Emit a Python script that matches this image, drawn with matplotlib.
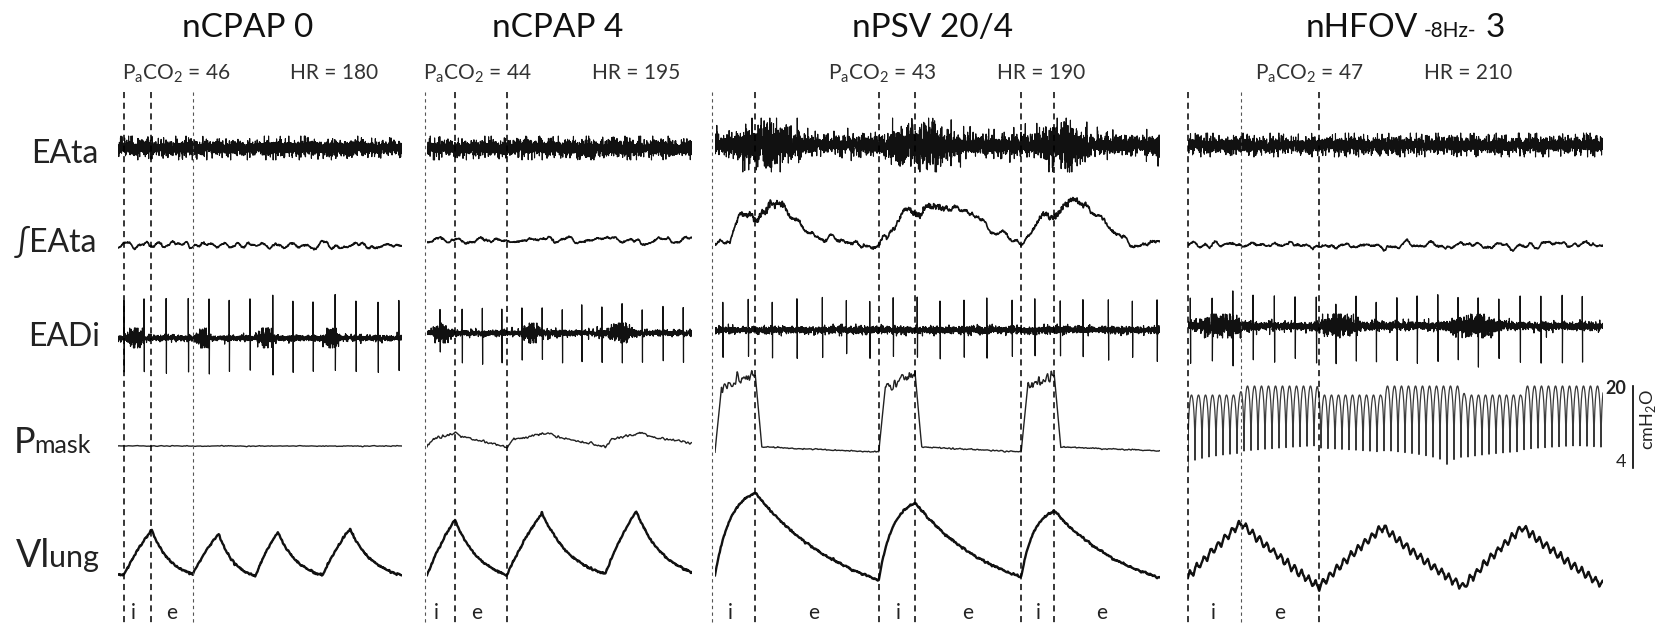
"""Respiratory traces (EAta, integrated EAta, EADi, Pmask, Vlung) under
four modes of non-invasive support, one column per mode.

Event times, levels and amplitudes were read off the published figure.
Raw EMG has no readable sample values, so its interference pattern is
drawn as seeded noise scaled by the envelope that was read off.
"""
import numpy as np
import matplotlib

matplotlib.use("Agg")
import matplotlib.pyplot as plt  # noqa: E402

plt.rcParams["font.family"] = ["Lato", "DejaVu Sans"]
plt.rcParams["mathtext.fontset"] = "custom"
plt.rcParams["mathtext.rm"] = "Lato"

W, H = 1663, 629

# ---------------- values ----------------
MODES = ["nCPAP 0", "nCPAP 4", "nPSV 20/4", "nHFOV"]
PACO2 = [46, 44, 43, 47]
HR = [180, 195, 190, 210]
HFOV_HZ = 8

# trace length (s) of each column
DURATION = [4.37, 4.08, 6.85, 7.41]

# dashed phase markers (s) and which of them are drawn faint
PHASE_LINES = [[0.09, 0.51, 1.15],
               [-0.03, 0.43, 1.23],
               [-0.05, 0.62, 2.52, 3.08, 4.71, 5.22],
               [0.0, 0.95, 2.34]]
PHASE_FAINT = [[1.15], [-0.03], [-0.05], [0.95]]
PHASE_TEXT = [[(0.23, "i"), (0.83, "e")],
              [(0.15, "i"), (0.77, "e")],
              [(0.23, "i"), (1.51, "e"), (2.82, "i"), (3.89, "e"),
               (4.97, "i"), (5.95, "e")],
              [(0.45, "i"), (1.64, "e")]]

# QRS complexes seen in the EADi channel (s)
ECG_BEATS = [
    [0.09, 0.40, 0.74, 1.08, 1.40, 1.71, 2.03, 2.38, 2.69, 3.00, 3.34,
     3.66, 4.00, 4.32],
    [0.20, 0.54, 0.85, 1.15, 1.46, 1.77, 2.08, 2.38, 2.69, 3.00, 3.31,
     3.63, 3.94],
    [0.12, 0.51, 0.88, 1.26, 1.65, 2.02, 2.38, 2.74, 3.11, 3.46, 3.83,
     4.18, 4.57, 4.92, 5.31, 5.66, 6.05, 6.42, 6.80],
    [0.04, 0.43, 0.80, 1.16, 1.54, 1.91, 2.29, 2.64, 3.00, 3.36, 3.73,
     4.09, 4.46, 4.82, 5.18, 5.55, 5.93, 6.30, 6.68, 7.04],
]
ECG_UP = [38, 25, 30, 30]      # spike height above EADi baseline
ECG_DOWN = [34, 29, 27, 36]    # spike depth below EADi baseline

# raw EMG envelopes (sd), peak excursion and burst windows (s)
EATA_SD = [3.4, 3.6, 4.0, 3.6]
EATA_BURST_SD = [0.0, 0.0, 6.0, 0.0]
EATA_MAX = [12, 12, 27, 12]
EATA_BURSTS = [[], [], [(0.10, 1.45), (2.45, 3.95), (4.75, 5.95)], []]
EADI_SD = [1.2, 1.2, 1.5, 1.7]
EADI_BURST_SD = [3.6, 3.2, 0.0, 3.6]
EADI_MAX = [10, 10, 6, 12]
EADI_BURSTS = [[(0.08, 0.45), (1.15, 1.46), (2.08, 2.45), (3.11, 3.46)],
               [(0.00, 0.45), (1.40, 1.80), (2.66, 3.30)],
               [],
               [(0.00, 1.20), (2.20, 3.20), (4.50, 5.80)]]

# integrated EAta, nPSV column: (s, height above baseline)
IEATA_PSV_T = [0.0, 0.23, 0.38, 0.62, 0.85, 1.15, 1.46, 1.69, 2.08, 2.52,
               2.77, 2.92, 3.08, 3.38, 3.92, 4.38, 4.71, 4.92, 5.08, 5.22,
               5.46, 5.92, 6.38, 6.85]
IEATA_PSV_V = [0, 3, 31, 23, 43, 33, 11, 3, 0, 0,
               18, 36, 28, 41, 31, 8, 0, 18, 28, 25,
               43, 28, -2, 1]
IEATA_WIGGLE = [1.8, 1.8, 2.2, 1.8]

# breaths: onset, end of inspiration (s); Vlung trough / peak levels
BREATH_ON = [[0.09, 1.15, 2.11, 3.15], [0.0, 1.23, 2.74],
             [0.0, 2.52, 4.71], [0.0, 2.34, 4.91]]
BREATH_PEAK = [[0.52, 1.55, 2.46, 3.57], [0.43, 1.77, 3.22],
               [0.62, 3.08, 5.22], [0.95, 3.48, 5.98]]
VLUNG_TROUGH = [[15, 16, 14, 15, 15], [15, 15, 16, 18],
                [15, 10, 13, 12], [13, 3, 3, 5]]
VLUNG_TOP = [[60, 56, 58, 61], [70, 77, 79], [97, 87, 79], [67, 63, 63]]
VLUNG_RISE_K = [0.5, 0.5, 2.6, 0.2]
VLUNG_FALL_K = [2.2, 2.0, 1.3, 0.3]
HFOV_VOL_WIGGLE = 4.0

# mask pressure (cmH2O)
PMASK_BASE = [0.0, 4.0, 4.0, 4.2]
PMASK_INSP_END = [[], [0.43, 1.88, 3.31], [0.62, 3.08, 5.22], []]
PMASK_RISE = [None, 5.6, 17.0, None]
PMASK_PEAK = [None, 6.8, 19.4, None]
PMASK_AFTER = [None, 6.1, 5.0, None]
HFOV_TOP_INSP = 18.6
HFOV_TOP_EXP = 20.4
SCALE_BAR = (4, 20)

# ---------------- layout ----------------
X0 = [118, 427, 715, 1188]          # left edge of each column (px)
PX_PER_S = [65, 65, 65, 56]
TITLE_X = [248, 558, 933, 1407]
SUB_LEFT = [122, 423, 828, 1255]
SUB_RIGHT = [378, 680, 1085, 1512]
ROW_EATA = [148, 148, 145, 145]
ROW_IEATA = [245, 240, 244, 245]
ROW_EADI = [338, 333, 330, 326]
ROW_PMASK0 = [446, 467, 472, 488]
PMASK_GAIN = 5.0
ROW_VLUNG = 590

INK = "#111111"
rng = np.random.default_rng(11)


def smooth_noise(n, width):
    k = np.exp(-0.5 * (np.arange(-3 * width, 3 * width + 1) / width) ** 2)
    x = np.convolve(rng.standard_normal(n), k / k.sum(), mode="same")
    return x / x.std()


def burst_env(t, bursts):
    e = np.zeros_like(t)
    for a, b in bursts:
        m = (t >= a) & (t <= b)
        e[m] = np.maximum(e[m], np.sin(np.pi * (t[m] - a) / (b - a)) ** 2)
    return e


def ease(s, k):
    if abs(k) < 0.05:
        return s
    return (1 - np.exp(-k * s)) / (1 - np.exp(-k))


def vlung(t, i):
    on, pk = BREATH_ON[i], BREATH_PEAK[i]
    lo, hi = VLUNG_TROUGH[i], VLUNG_TOP[i]
    v = np.full_like(t, lo[0], dtype=float)
    for k in range(len(on)):
        t_next = on[k + 1] if k + 1 < len(on) else t[-1] + 1e-9
        m = (t >= on[k]) & (t < pk[k])
        s = (t[m] - on[k]) / (pk[k] - on[k])
        v[m] = lo[k] + (hi[k] - lo[k]) * ease(s, VLUNG_RISE_K[i])
        m = (t >= pk[k]) & (t <= t_next)
        s = (t[m] - pk[k]) / (t_next - pk[k])
        v[m] = hi[k] + (lo[k + 1] - hi[k]) * ease(s, VLUNG_FALL_K[i])
    return v


def pmask(t, i):
    base = PMASK_BASE[i]
    p = np.full_like(t, base, dtype=float)
    if i == 0:
        return p + 0.04 * smooth_noise(t.size, 6)
    if i == 3:
        phase = (t * HFOV_HZ) % 1.0
        top = np.full_like(t, HFOV_TOP_EXP)
        for on, pk in zip(BREATH_ON[i], BREATH_PEAK[i]):
            top[(t >= on) & (t < pk)] = HFOV_TOP_INSP
        top = np.convolve(top, np.ones(40) / 40, mode="same")
        top[:20], top[-20:] = HFOV_TOP_INSP, HFOV_TOP_EXP
        return base + (top - base) * np.sin(np.pi * phase) ** 0.35
    on, end = BREATH_ON[i], PMASK_INSP_END[i]
    rise, peak, after = PMASK_RISE[i], PMASK_PEAK[i], PMASK_AFTER[i]
    tr, tf = 0.10, 0.10
    plateau = np.zeros_like(t)
    for k in range(len(on)):
        t_next = on[k + 1] if k + 1 < len(on) else t[-1] + 0.4
        m = (t >= on[k]) & (t < on[k] + tr)
        p[m] = base + (rise - base) * (t[m] - on[k]) / tr
        m = (t >= on[k] + tr) & (t < end[k])
        p[m] = rise + (peak - rise) * (t[m] - on[k] - tr) / (end[k] - on[k] - tr)
        plateau[m] = 1.0
        m = (t >= end[k]) & (t < end[k] + tf)
        p[m] = peak + (after - peak) * (t[m] - end[k]) / tf
        m = (t >= end[k] + tf) & (t < t_next)
        p[m] = after + (base - after) * (t[m] - end[k] - tf) / (t_next - end[k] - tf)
    jitter = 0.12 if i == 1 else 0.06 + 0.45 * plateau
    return p + jitter * smooth_noise(t.size, 5)


fig = plt.figure(figsize=(W / 100, H / 100), dpi=100)

for i, mode in enumerate(MODES):
    dur, pps = DURATION[i], PX_PER_S[i]
    ax = fig.add_axes([X0[i] / W, 0, dur * pps / W, 1])
    ax.set_xlim(0, dur)
    ax.set_ylim(H, 0)
    ax.axis("off")

    n = int(dur * pps * 10)
    t = np.linspace(0, dur, n)

    # EAta raw
    env = EATA_SD[i] + EATA_BURST_SD[i] * burst_env(t, EATA_BURSTS[i])
    eata = np.clip(rng.standard_t(8, n) * env, -EATA_MAX[i], EATA_MAX[i])
    ax.plot(t, ROW_EATA[i] - eata, color=INK, lw=0.8)

    # integrated EAta
    if i == 2:
        ie = np.interp(t, IEATA_PSV_T, IEATA_PSV_V)
        fine = 0.6 + 1.2 * burst_env(t, EATA_BURSTS[i])
    else:
        ie = np.zeros_like(t)
        fine = 0.4
    ie = ie + IEATA_WIGGLE[i] * smooth_noise(n, 20) + fine * smooth_noise(n, 2)
    ax.plot(t, ROW_IEATA[i] - ie, color=INK, lw=1.2)

    # EADi raw with ECG spikes
    env = EADI_SD[i] + EADI_BURST_SD[i] * burst_env(t, EADI_BURSTS[i])
    eadi = np.clip(rng.standard_t(8, n) * env, -EADI_MAX[i], EADI_MAX[i])
    for b in ECG_BEATS[i]:
        j = min(np.searchsorted(t, b), n - 4)
        eadi[j] += ECG_UP[i]
        eadi[j + 3] -= ECG_DOWN[i]
    ax.plot(t, ROW_EADI[i] - eadi, color=INK, lw=0.85)

    # mask pressure
    p = pmask(t, i)
    ax.plot(t, ROW_PMASK0[i] - PMASK_GAIN * p,
            color="#3a3a3a" if i == 3 else "#222222",
            lw=0.9 if i == 3 else 1.0)

    # lung volume
    v = vlung(t, i) + 0.5 * smooth_noise(n, 3)
    if i == 3:
        v = v + HFOV_VOL_WIGGLE * (2 / np.pi) * np.arcsin(
            np.sin(2 * np.pi * HFOV_HZ * t))
    ax.plot(t, ROW_VLUNG - v, color=INK, lw=1.7)

    # phase markers
    for x in PHASE_LINES[i]:
        faint = x in PHASE_FAINT[i]
        ax.plot([x, x], [92, 625], color="#555555" if faint else "black",
                lw=0.8 if faint else 1.1, ls=(0, (3, 3)) if faint else (0, (4, 3)),
                clip_on=False)
    for x, s in PHASE_TEXT[i]:
        ax.text(x, 613, s, ha="center", va="center", fontsize=15,
                color="#222222", clip_on=False)

    # headings
    if i < 3:
        fig.text(TITLE_X[i] / W, 1 - 37 / H, mode, ha="center",
                 va="baseline", fontsize=24, color="#111111")
    fig.text(SUB_LEFT[i] / W, 1 - 79 / H,
             r"P$_\mathrm{a}$CO$_\mathrm{2}$ = %d" % PACO2[i],
             ha="left", va="baseline", fontsize=15, color="#333333")
    fig.text(SUB_RIGHT[i] / W, 1 - 79 / H, "HR = %d" % HR[i],
             ha="right", va="baseline", fontsize=15, color="#333333")

    if i == 3:
        # pressure scale bar
        xb = (1633 - X0[i]) / pps
        y_lo = ROW_PMASK0[i] - PMASK_GAIN * SCALE_BAR[0]
        y_hi = ROW_PMASK0[i] - PMASK_GAIN * SCALE_BAR[1]
        ax.plot([xb, xb], [y_lo, y_hi - 2], color="black", lw=1.2, clip_on=False)
        ax.text(xb - 0.12, y_hi, str(SCALE_BAR[1]), ha="right", va="center",
                fontsize=13, fontweight="bold", color="#222222", clip_on=False)
        ax.text(xb - 0.12, y_lo - 6, str(SCALE_BAR[0]), ha="right", va="center",
                fontsize=13, color="#222222", clip_on=False)
        ax.text(xb + 0.27, (y_lo + y_hi) / 2 - 8, r"cmH$_2$O", rotation=90,
                ha="center", va="center", fontsize=13, color="#222222",
                clip_on=False)

# nHFOV title with the small frequency tag
fig.text(1418 / W, 1 - 37 / H, "nHFOV", ha="right", va="baseline",
         fontsize=24, color="#111111")
fig.text(1424 / W, 1 - 37 / H, "-%dHz-" % HFOV_HZ, ha="left", va="baseline",
         fontsize=15, color="#111111")
fig.text(1486 / W, 1 - 37 / H, "3", ha="left", va="baseline",
         fontsize=24, color="#111111")

# channel labels
fig.text(98 / W, 1 - 163 / H, "EAta", ha="right", va="baseline",
         fontsize=23, color="#222222")
fig.text(97 / W, 1 - 252 / H, "\u222bEAta", ha="right", va="baseline",
         fontsize=23, color="#222222")
fig.text(100 / W, 1 - 346 / H, "EADi", ha="right", va="baseline",
         fontsize=23, color="#222222")
fig.text(14 / W, 1 - 453 / H, "P", ha="left", va="baseline",
         fontsize=26, color="#222222")
fig.text(34 / W, 1 - 453 / H, "mask", ha="left", va="baseline",
         fontsize=18, color="#222222")
fig.text(16 / W, 1 - 567 / H, "Vl", ha="left", va="baseline",
         fontsize=27, color="#222222")
fig.text(49 / W, 1 - 567 / H, "ung", ha="left", va="baseline",
         fontsize=22, color="#222222")

fig.savefig("out.png", dpi=100)
plt.close(fig)
